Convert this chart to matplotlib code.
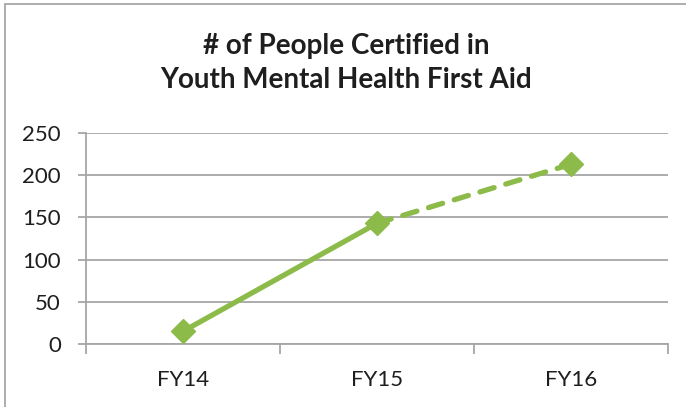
import matplotlib
matplotlib.use('Agg')
import matplotlib.pyplot as plt
from matplotlib.patches import Rectangle

# data
years = ["FY14", "FY15", "FY16"]
certified = [15, 143, 213]
y_ticks = [0, 50, 100, 150, 200, 250]

green = "#8DBB4A"
grid_gray = "#A6A6A6"
text_col = "#1E1E1E"

plt.rcParams['font.family'] = ['Lato', 'DejaVu Sans']

fig = plt.figure(figsize=(6.86, 4.07), dpi=100)
# grey frame around the whole chart
fig.patches.append(Rectangle((5 / 686, -0.01), 1.0, 1.0 - 4 / 407 + 0.01,
                             transform=fig.transFigure, fill=False,
                             edgecolor="#A0A0A0", linewidth=1.2))

ax = fig.add_axes([86 / 686, 63 / 407, 582 / 686, 211 / 407])
x = list(range(len(years)))

# actual values solid, last segment dashed
ax.plot(x[:2], certified[:2], color=green, linewidth=3.8, solid_capstyle='butt', zorder=3)
ax.plot(x[1:], certified[1:], color=green, linewidth=3.8, linestyle=(0, (2.8, 2.3)),
        dash_capstyle='round', zorder=3)
ax.plot(x, certified, linestyle='none', marker='D', markersize=12.5,
        color=green, zorder=4)

ax.set_xlim(-0.5, len(years) - 0.5)
ax.set_ylim(0, 250)
ax.set_yticks(y_ticks)
ax.set_xticks(x)
ax.set_xticklabels(years)
ax.set_xticks([i - 0.5 for i in range(len(years) + 1)], minor=True)

ax.grid(axis='y', color=grid_gray, linewidth=1.3, zorder=1)
ax.tick_params(axis='y', length=6, width=1.3, color=grid_gray, labelsize=16,
               labelcolor=text_col, pad=12)
ax.tick_params(axis='x', which='major', length=0, labelsize=16,
               labelcolor=text_col, pad=19)
ax.tick_params(axis='x', which='minor', length=7, width=1.3, color=grid_gray)

for side in ['top', 'right']:
    ax.spines[side].set_visible(False)
for side in ['left', 'bottom']:
    ax.spines[side].set_color(grid_gray)
    ax.spines[side].set_linewidth(1.3)

fig.text(0.5 + 3 / 686, 1 - 63 / 407, "# of People Certified in\nYouth Mental Health First Aid",
         ha='center', va='center', fontsize=20, fontweight='bold',
         color=text_col, linespacing=1.35)

fig.savefig("out.png", dpi=100)
